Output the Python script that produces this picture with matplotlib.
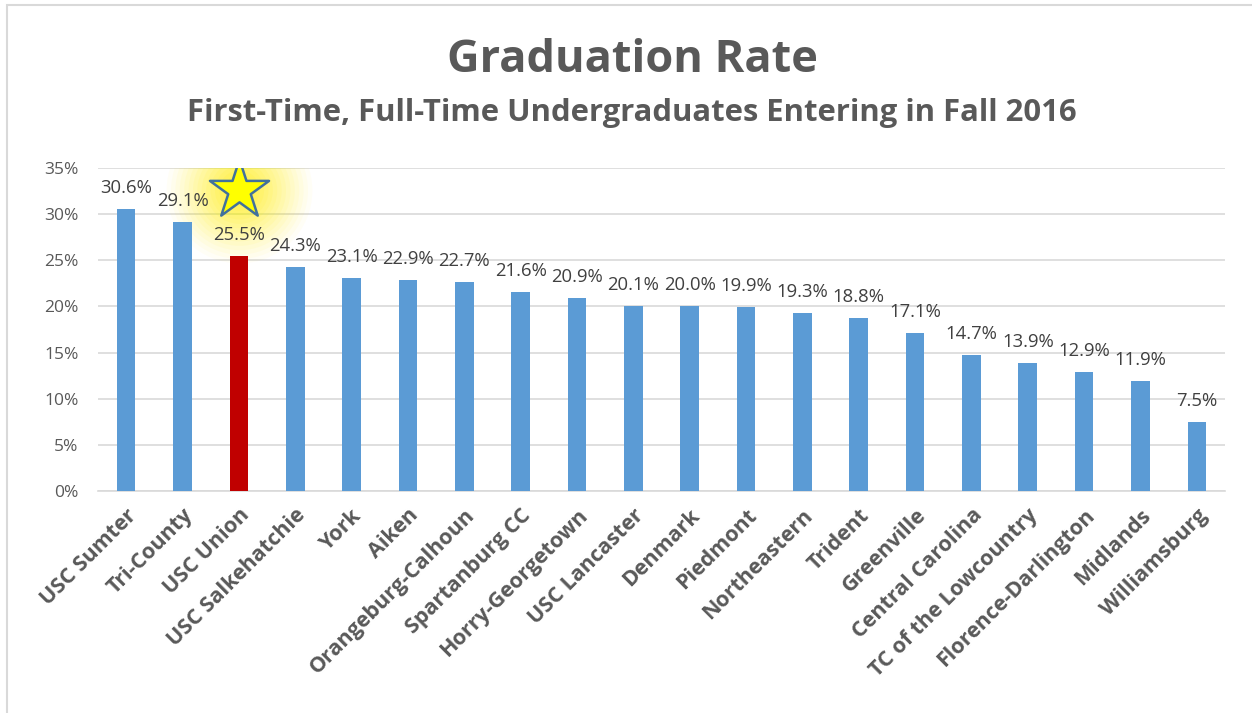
import matplotlib.pyplot as plt
import numpy as np

colleges = ["USC Sumter", "Tri-County", "USC Union", "USC Salkehatchie", "York", "Aiken",
            "Orangeburg-Calhoun", "Spartanburg CC", "Horry-Georgetown", "USC Lancaster",
            "Denmark", "Piedmont", "Northeastern", "Trident", "Greenville",
            "Central Carolina", "TC of the Lowcountry", "Florence-Darlington", "Midlands",
            "Williamsburg"]
rates = [30.6, 29.1, 25.5, 24.3, 23.1, 22.9, 22.7, 21.6, 20.9, 20.1,
         20.0, 19.9, 19.3, 18.8, 17.1, 14.7, 13.9, 12.9, 11.9, 7.5]
highlight = "USC Union"
y_ticks = [0, 5, 10, 15, 20, 25, 30, 35]

plt.rcParams['font.family'] = ['Open Sans', 'DejaVu Sans']

fig = plt.figure(figsize=(12.52, 7.13), dpi=100)
# chart frame
fig.patches.append(plt.Rectangle((7 / 1252, -0.01), 1.0, 1 - 5 / 713 + 0.01,
                                 transform=fig.transFigure, fill=False,
                                 edgecolor="#d9d9d9", linewidth=1.5))

ax = fig.add_axes([98 / 1252, 1 - 491 / 713, (1225 - 98) / 1252, (491 - 168) / 713])

x = np.arange(len(colleges))
colors = ["#C00000" if c == highlight else "#5B9BD5" for c in colleges]
ax.bar(x, rates, width=0.33, color=colors, zorder=3)

for xi, v in zip(x, rates):
    ax.text(xi, v + 1.3, f"{v:.1f}%", ha="center", va="bottom",
            fontsize=13.3, color="#404040", zorder=5)

# star + glow above highlighted bar
hx = colleges.index(highlight)
for r, a in zip(np.linspace(105, 10, 16), np.linspace(0.035, 0.12, 16)):
    ax.scatter([hx], [32.6], s=r ** 2, color="#FFF200", alpha=a, lw=0, zorder=2)
ax.scatter([hx], [32.6], s=2000, marker="*", color="#FFFF00",
           edgecolor="#41719C", linewidth=1.8, zorder=6)

ax.set_xlim(-0.5, len(colleges) - 0.5)
ax.set_ylim(0, 35)
ax.set_yticks(y_ticks)
ax.set_yticklabels([f"{t}%" for t in y_ticks], fontsize=12.5, color="#595959")
ax.set_xticks(x)
ax.set_xticklabels(colleges, rotation=45, ha="right", rotation_mode="anchor",
                   fontsize=15.5, fontweight="bold", color="#595959")
ax.tick_params(axis="y", length=0, pad=14)
ax.tick_params(axis="x", length=0, pad=10)
ax.grid(axis="y", color="#d9d9d9", linewidth=1.2, zorder=0)
for s in ["top", "right", "left"]:
    ax.spines[s].set_visible(False)
ax.spines["bottom"].set_color("#d9d9d9")
ax.spines["bottom"].set_linewidth(1.2)

fig.text(0.505, 1 - 60 / 713, "Graduation Rate", ha="center", va="center",
         fontsize=32.5, fontweight="bold", color="#595959")
fig.text(0.505, 1 - 113 / 713, "First-Time, Full-Time Undergraduates Entering in Fall 2016",
         ha="center", va="center", fontsize=22.3, fontweight="bold", color="#595959")

fig.savefig("out.png", dpi=100)
